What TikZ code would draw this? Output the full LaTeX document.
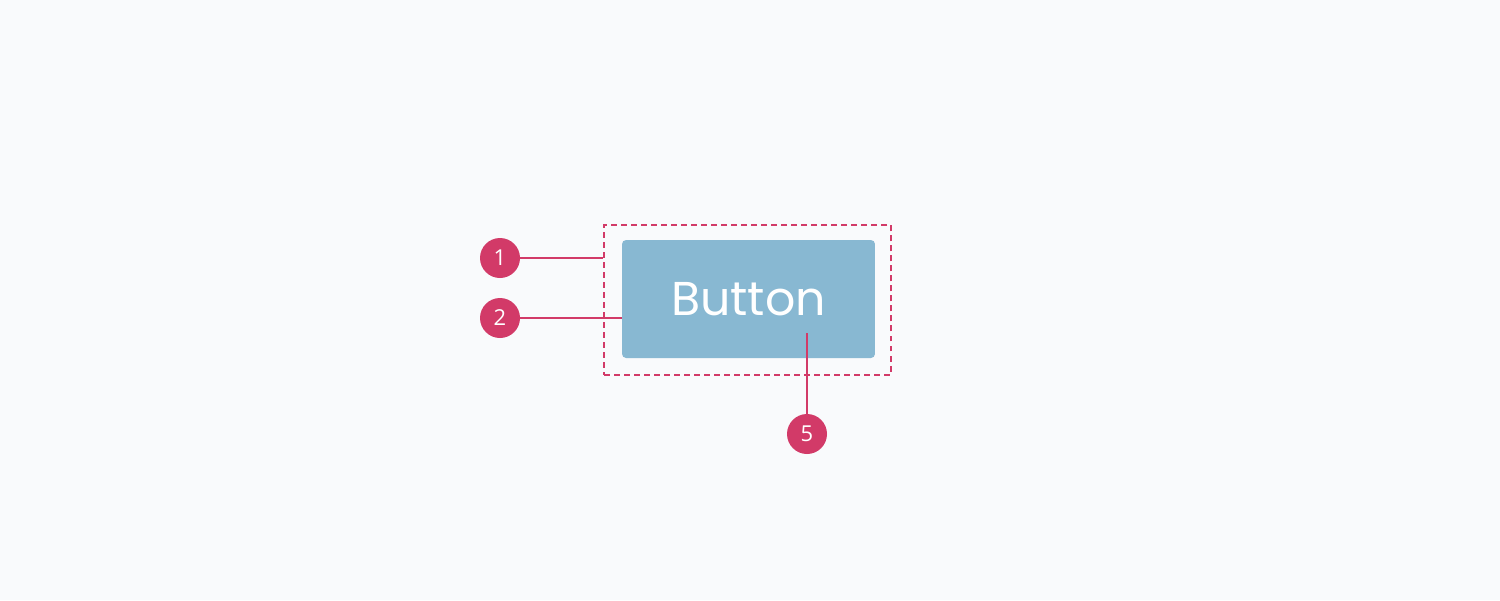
\documentclass[tikz,border=0pt]{standalone}
\usepackage{fontspec}
\setmainfont{Poppins}
\newfontfamily\numfont{Open Sans}
\usepackage{tikz}
\usetikzlibrary{arrows}

\definecolor{pagebg}{HTML}{F9FAFC}
\definecolor{marker}{HTML}{D23A68}
\definecolor{btnblue}{HTML}{88B8D2}

\tikzset{
  callout/.style={circle,fill=marker,text=white,minimum size=0.8cm,inner sep=0pt,font=\numfont\fontsize{12.5}{12.5}\selectfont},
  leader/.style={draw=marker,line width=0.8pt}
}

\begin{document}
\begin{tikzpicture}[x=0.02cm,y=-0.02cm]
\fill[pagebg] (0,0) rectangle (1500,600);
\useasboundingbox (0,0) rectangle (1500,600);

\draw (747.5,300) node (Frame) [draw=marker,line width=0.8pt,dash pattern=on 3.4pt off 2.3pt,minimum width=5.74cm,minimum height=3cm] {};
\draw (748.5,299) node (Btn) [fill=btnblue,rounded corners=2.3pt,minimum width=5.06cm,minimum height=2.36cm,text=white,font=\fontsize{27}{27}\selectfont] {Button};

\draw (500,258) node (Num1) [callout] {1};
\draw (500,318) node (Num2) [callout] {2};
\draw (807,434) node (Num5) [callout] {5};
\coordinate (Tip5) at (807,333);

\draw[leader] (Num1) -- (Num1 -| Frame.west);
\draw[leader] (Num2) -- (Num2 -| Btn.west);
\draw[leader] (Tip5) -- (Num5);

\end{tikzpicture}
\end{document}
